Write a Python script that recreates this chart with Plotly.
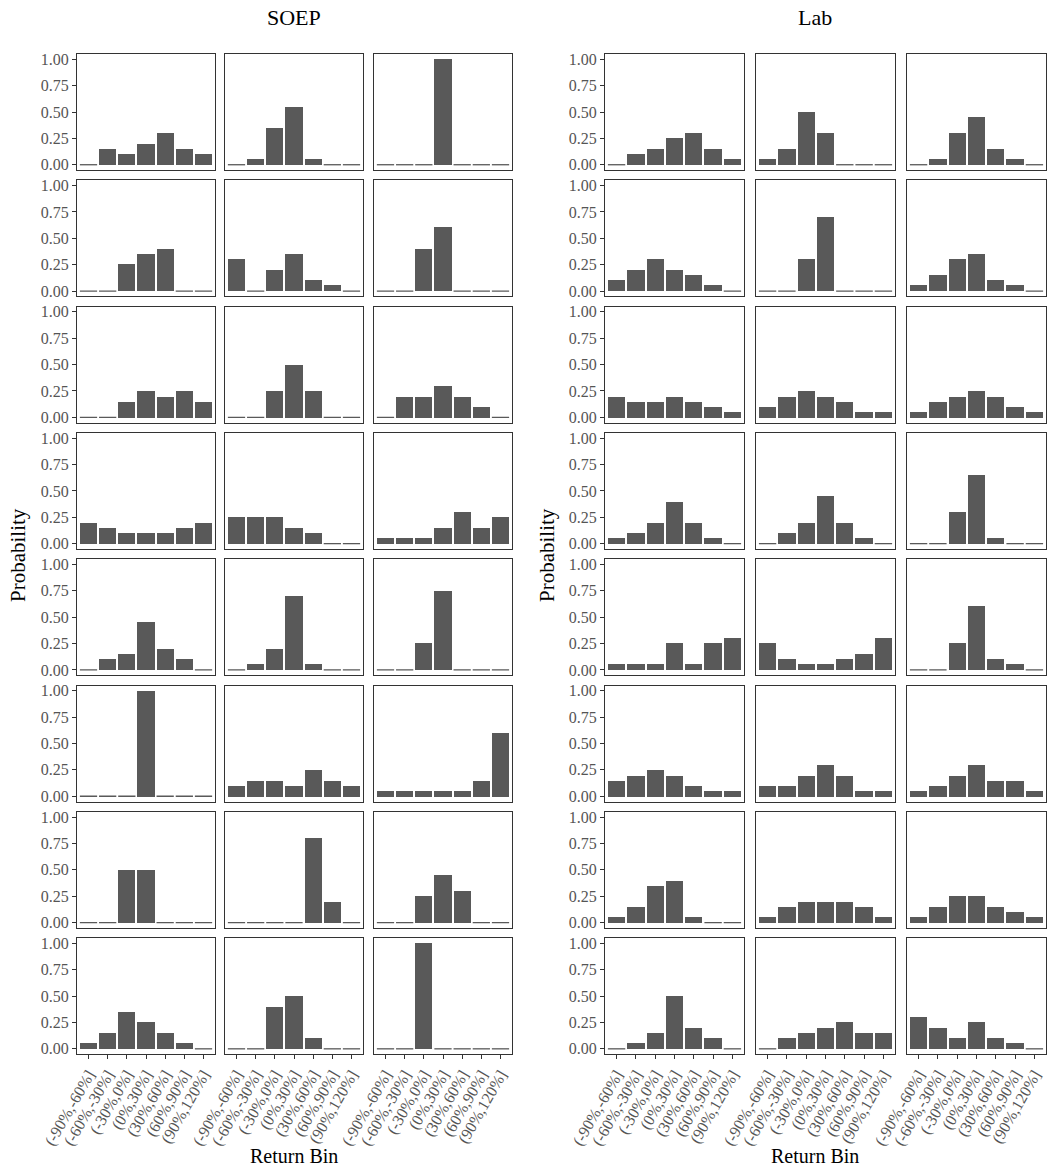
import plotly.graph_objects as go

bins = ["(-90%,-60%]", "(-60%,-30%]", "(-30%,0%]", "(0%,30%]",
        "(30%,60%]", "(60%,90%]", "(90%,120%]"]
y_ticks = [0, 0.25, 0.5, 0.75, 1.0]
y_ticktext = ["0.00", "0.25", "0.50", "0.75", "1.00"]

# SOEP: 8 rows x 3 columns of probability distributions over the bins
soep_row1 = [[0, .15, .10, .20, .30, .15, .10],
             [0, .05, .35, .55, .05, 0, 0],
             [0, 0, 0, 1.0, 0, 0, 0]]
soep_row2 = [[0, 0, .25, .35, .40, 0, 0],
             [.30, 0, .20, .35, .10, .05, 0],
             [0, 0, .40, .60, 0, 0, 0]]
soep_row3 = [[0, 0, .15, .25, .20, .25, .15],
             [0, 0, .25, .50, .25, 0, 0],
             [0, .20, .20, .30, .20, .10, 0]]
soep_row4 = [[.20, .15, .10, .10, .10, .15, .20],
             [.25, .25, .25, .15, .10, 0, 0],
             [.05, .05, .05, .15, .30, .15, .25]]
soep_row5 = [[0, .10, .15, .45, .20, .10, 0],
             [0, .05, .20, .70, .05, 0, 0],
             [0, 0, .25, .75, 0, 0, 0]]
soep_row6 = [[0, 0, 0, 1.0, 0, 0, 0],
             [.10, .15, .15, .10, .25, .15, .10],
             [.05, .05, .05, .05, .05, .15, .60]]
soep_row7 = [[0, 0, .50, .50, 0, 0, 0],
             [0, 0, 0, 0, .80, .20, 0],
             [0, 0, .25, .45, .30, 0, 0]]
soep_row8 = [[.05, .15, .35, .25, .15, .05, 0],
             [0, 0, .40, .50, .10, 0, 0],
             [0, 0, 1.0, 0, 0, 0, 0]]

# Lab: 8 rows x 3 columns
lab_row1 = [[0, .10, .15, .25, .30, .15, .05],
            [.05, .15, .50, .30, 0, 0, 0],
            [0, .05, .30, .45, .15, .05, 0]]
lab_row2 = [[.10, .20, .30, .20, .15, .05, 0],
            [0, 0, .30, .70, 0, 0, 0],
            [.05, .15, .30, .35, .10, .05, 0]]
lab_row3 = [[.20, .15, .15, .20, .15, .10, .05],
            [.10, .20, .25, .20, .15, .05, .05],
            [.05, .15, .20, .25, .20, .10, .05]]
lab_row4 = [[.05, .10, .20, .40, .20, .05, 0],
            [0, .10, .20, .45, .20, .05, 0],
            [0, 0, .30, .65, .05, 0, 0]]
lab_row5 = [[.05, .05, .05, .25, .05, .25, .30],
            [.25, .10, .05, .05, .10, .15, .30],
            [0, 0, .25, .60, .10, .05, 0]]
lab_row6 = [[.15, .20, .25, .20, .10, .05, .05],
            [.10, .10, .20, .30, .20, .05, .05],
            [.05, .10, .20, .30, .15, .15, .05]]
lab_row7 = [[.05, .15, .35, .40, .05, 0, 0],
            [.05, .15, .20, .20, .20, .15, .05],
            [.05, .15, .25, .25, .15, .10, .05]]
lab_row8 = [[0, .05, .15, .50, .20, .10, 0],
            [0, .10, .15, .20, .25, .15, .15],
            [.30, .20, .10, .25, .10, .05, 0]]

soep = [soep_row1, soep_row2, soep_row3, soep_row4,
        soep_row5, soep_row6, soep_row7, soep_row8]
lab = [lab_row1, lab_row2, lab_row3, lab_row4,
       lab_row5, lab_row6, lab_row7, lab_row8]

W, H = 1047, 1170
BAR = "#595959"
LINE = "#333333"
FONT = "Liberation Serif, DejaVu Serif, serif"
TICKFONT = dict(family=FONT, size=16, color="#555555")

panel_lefts = [[77, 225, 374], [605, 756, 907]]
panel_widths = [138, 139]
row_top0, row_pitch, row_h = 54, 126.3, 116

fig = go.Figure()
layout = {}
xpos = list(range(len(bins)))
bw = 0.9
k = 0
for p, data in enumerate([soep, lab]):
    for r in range(8):
        for c in range(3):
            k += 1
            vals = data[r][c]
            xa = "x" if k == 1 else f"x{k}"
            ya = "y" if k == 1 else f"y{k}"
            fig.add_trace(go.Bar(x=xpos, y=vals, width=bw, marker=dict(color=BAR, line=dict(width=0)),
                                 xaxis=xa, yaxis=ya, showlegend=False, hoverinfo="x+y"))
            # zero-probability bins drawn as thin flat bars
            zx, zy = [], []
            for i, v in enumerate(vals):
                if v == 0:
                    zx += [i - bw / 2, i + bw / 2, None]
                    zy += [0, 0, None]
            if zx:
                fig.add_trace(go.Scatter(x=zx, y=zy, mode="lines", line=dict(color=BAR, width=1.3),
                                         xaxis=xa, yaxis=ya, showlegend=False, hoverinfo="skip"))
            left = panel_lefts[p][c]
            width = panel_widths[p]
            top = row_top0 + r * row_pitch
            bottom = top + row_h
            bottom_row = (r == 7)
            first_col = (c == 0)
            xkey = "xaxis" if k == 1 else f"xaxis{k}"
            ykey = "yaxis" if k == 1 else f"yaxis{k}"
            layout[xkey] = dict(
                domain=[left / W, (left + width) / W], anchor=ya, automargin=False,
                range=[-0.6, 6.6], tickmode="array", tickvals=xpos, ticktext=bins,
                showticklabels=bottom_row, ticks="outside" if bottom_row else "",
                ticklen=4, tickcolor=LINE, tickangle=-60, tickfont=TICKFONT,
                showline=True, mirror=True, linecolor=LINE, linewidth=1,
                showgrid=False, zeroline=False, fixedrange=True)
            layout[ykey] = dict(
                domain=[1 - bottom / H, 1 - top / H], anchor=xa, automargin=False,
                range=[-0.05, 1.05], tickmode="array", tickvals=y_ticks, ticktext=y_ticktext,
                showticklabels=first_col, ticks="outside" if first_col else "",
                ticklen=4, tickcolor=LINE, tickfont=TICKFONT,
                showline=True, mirror=True, linecolor=LINE, linewidth=1,
                showgrid=False, zeroline=False, fixedrange=True)

annotations = [
    dict(text="SOEP", x=294 / W, y=1 - 18 / H, font=dict(family=FONT, size=22, color="black")),
    dict(text="Lab", x=815 / W, y=1 - 18 / H, font=dict(family=FONT, size=22, color="black")),
    dict(text="Return Bin", x=294 / W, y=1 - 1156 / H, font=dict(family=FONT, size=20, color="black")),
    dict(text="Return Bin", x=815 / W, y=1 - 1156 / H, font=dict(family=FONT, size=20, color="black")),
    dict(text="Probability", x=18 / W, y=1 - 555 / H, textangle=-90, font=dict(family=FONT, size=21, color="black")),
    dict(text="Probability", x=547 / W, y=1 - 555 / H, textangle=-90, font=dict(family=FONT, size=21, color="black")),
]
for a in annotations:
    a.update(xref="paper", yref="paper", showarrow=False, xanchor="center", yanchor="middle")

fig.update_layout(template="none", width=W, height=H, margin=dict(l=0, r=0, t=0, b=0, autoexpand=False),
                  paper_bgcolor="white", plot_bgcolor="white",
                  bargap=0, annotations=annotations, **layout)

fig.write_html("out.html", config={"displayModeBar": False},
               post_script="document.body.style.margin='0';document.body.style.overflow='hidden';")
